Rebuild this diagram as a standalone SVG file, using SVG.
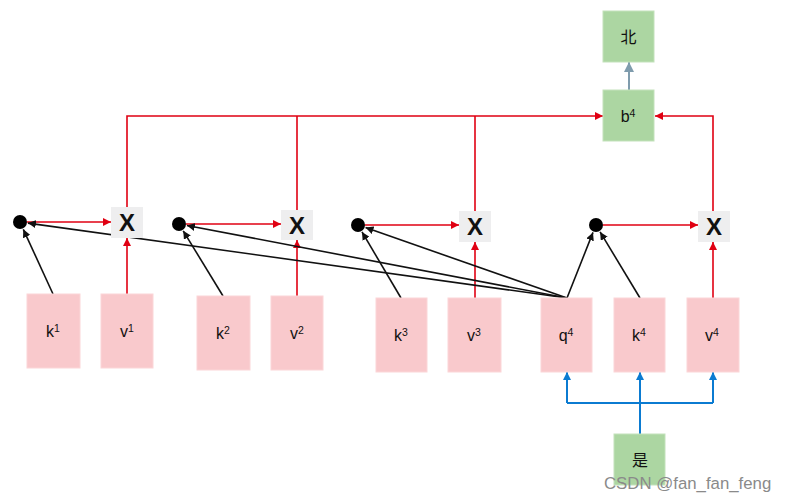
<svg xmlns="http://www.w3.org/2000/svg" width="785" height="502" viewBox="0 0 785 502">
<defs>
<style>
.pk{fill:#f9c9cc;stroke:#fbd6d8;stroke-width:1}
.gr{fill:#acd6a2;stroke:#c3e2bb;stroke-width:1}
.xb{fill:#eeeeef}
.lb{font-family:"Liberation Sans",Arial,sans-serif;font-size:16px;fill:#111}
.sup{font-size:10.5px}
.xt{font-family:"Liberation Sans",Arial,sans-serif;font-size:24px;font-weight:bold;fill:#111}
.cj{font-family:"Noto Sans CJK SC",sans-serif;font-size:16px;fill:#111}
.red{stroke:#e00012;stroke-width:1.6;fill:none}
.blk{stroke:#111;stroke-width:1.6;fill:none}
.blu{stroke:#0b7bd1;stroke-width:2;fill:none}
.gbl{stroke:#7f9cad;stroke-width:2;fill:none}
.wm{font-family:"Liberation Sans",Arial,sans-serif;font-size:16.8px;fill:#8a8a8a}
</style>
<marker id="ar" viewBox="0 0 10 10" refX="10" refY="5" markerWidth="8" markerHeight="8" markerUnits="userSpaceOnUse" orient="auto"><path d="M0,0 L10,5 L0,10 z" fill="#e00012"/></marker>
<marker id="ab" viewBox="0 0 10 10" refX="10" refY="5" markerWidth="8" markerHeight="8" markerUnits="userSpaceOnUse" orient="auto"><path d="M0,0 L10,5 L0,10 z" fill="#111"/></marker>
<marker id="au" viewBox="0 0 10 10" refX="10" refY="5" markerWidth="8" markerHeight="8" markerUnits="userSpaceOnUse" orient="auto"><path d="M0,0 L10,5 L0,10 z" fill="#0b7bd1"/></marker>
<marker id="ag" viewBox="0 0 10 10" refX="10" refY="5" markerWidth="10" markerHeight="10" markerUnits="userSpaceOnUse" orient="auto"><path d="M0,0 L10,5 L0,10 z" fill="#7f9cad"/></marker>
</defs>
<rect width="785" height="502" fill="#ffffff"/>

<g id="connectors">
<polyline class="red" points="127,207 127,116 603,116" marker-end="url(#ar)"/>
<line class="red" x1="297" y1="210" x2="297" y2="116"/>
<line class="red" x1="475" y1="211" x2="475" y2="116"/>
<polyline class="red" points="713,211 713,116 655,116" marker-end="url(#ar)"/>
<line class="red" x1="27" y1="222" x2="111" y2="222" marker-end="url(#ar)"/>
<line class="red" x1="186" y1="224" x2="281" y2="224" marker-end="url(#ar)"/>
<line class="red" x1="365" y1="225" x2="459" y2="225" marker-end="url(#ar)"/>
<line class="red" x1="603" y1="225" x2="698" y2="225" marker-end="url(#ar)"/>
<line class="red" x1="127" y1="294" x2="127" y2="238" marker-end="url(#ar)"/>
<line class="red" x1="297" y1="296" x2="297" y2="240" marker-end="url(#ar)"/>
<line class="red" x1="475" y1="298" x2="475" y2="242" marker-end="url(#ar)"/>
<line class="red" x1="713" y1="298" x2="713" y2="242" marker-end="url(#ar)"/>
<line class="blk" x1="53" y1="294" x2="23.3" y2="229.3" marker-end="url(#ab)"/>
<line class="blk" x1="223" y1="296" x2="183.2" y2="230.8" marker-end="url(#ab)"/>
<line class="blk" x1="401" y1="298" x2="362" y2="231.9" marker-end="url(#ab)"/>
<line class="blk" x1="640" y1="298" x2="600.1" y2="231.9" marker-end="url(#ab)"/>
<line class="blk" x1="567" y1="298" x2="27.9" y2="223.1" marker-end="url(#ab)"/>
<line class="blk" x1="567" y1="298" x2="186.9" y2="225.5" marker-end="url(#ab)"/>
<line class="blk" x1="567" y1="298" x2="365.5" y2="227.6" marker-end="url(#ab)"/>
<line class="blk" x1="567" y1="298" x2="593" y2="232.4" marker-end="url(#ab)"/>
<line class="blu" x1="640" y1="434" x2="640" y2="372" marker-end="url(#au)"/>
<polyline class="blu" points="567,403 713,403"/>
<line class="blu" x1="567" y1="403" x2="567" y2="372" marker-end="url(#au)"/>
<line class="blu" x1="713" y1="403" x2="713" y2="372" marker-end="url(#au)"/>
<line class="gbl" x1="629" y1="90" x2="629" y2="62" marker-end="url(#ag)"/>
</g>

<g id="dot1"><circle cx="20" cy="222" r="7" fill="#000"/></g>
<g id="dot2"><circle cx="179" cy="224" r="7" fill="#000"/></g>
<g id="dot3"><circle cx="358" cy="225" r="7" fill="#000"/></g>
<g id="dot4"><circle cx="596" cy="225" r="7" fill="#000"/></g>

<g id="x1"><rect class="xb" x="111" y="207" width="32" height="31"/><text class="xt" x="127" y="231" text-anchor="middle">X</text></g>
<g id="x2"><rect class="xb" x="281" y="210" width="32" height="30"/><text class="xt" x="297" y="233.5" text-anchor="middle">X</text></g>
<g id="x3"><rect class="xb" x="459" y="211" width="32" height="31"/><text class="xt" x="475" y="235" text-anchor="middle">X</text></g>
<g id="x4"><rect class="xb" x="698" y="211" width="32" height="31"/><text class="xt" x="714" y="235" text-anchor="middle">X</text></g>

<g id="k1"><rect class="pk" x="27" y="294" width="53" height="74"/><text class="lb" x="53" y="337" text-anchor="middle">k<tspan class="sup" dy="-5">1</tspan></text></g>
<g id="v1"><rect class="pk" x="101" y="294" width="52" height="74"/><text class="lb" x="127" y="337" text-anchor="middle">v<tspan class="sup" dy="-5">1</tspan></text></g>
<g id="k2"><rect class="pk" x="197" y="296" width="53" height="74"/><text class="lb" x="223" y="339" text-anchor="middle">k<tspan class="sup" dy="-5">2</tspan></text></g>
<g id="v2"><rect class="pk" x="271" y="296" width="52" height="74"/><text class="lb" x="297" y="339" text-anchor="middle">v<tspan class="sup" dy="-5">2</tspan></text></g>
<g id="k3"><rect class="pk" x="376" y="298" width="51" height="74"/><text class="lb" x="401" y="341" text-anchor="middle">k<tspan class="sup" dy="-5">3</tspan></text></g>
<g id="v3"><rect class="pk" x="448" y="298" width="53" height="74"/><text class="lb" x="474" y="341" text-anchor="middle">v<tspan class="sup" dy="-5">3</tspan></text></g>
<g id="q4"><rect class="pk" x="541" y="298" width="51" height="74"/><text class="lb" x="566" y="341" text-anchor="middle">q<tspan class="sup" dy="-5">4</tspan></text></g>
<g id="k4"><rect class="pk" x="614" y="298" width="51" height="74"/><text class="lb" x="639" y="341" text-anchor="middle">k<tspan class="sup" dy="-5">4</tspan></text></g>
<g id="v4"><rect class="pk" x="687" y="298" width="52" height="74"/><text class="lb" x="712" y="341" text-anchor="middle">v<tspan class="sup" dy="-5">4</tspan></text></g>

<g id="b4"><rect class="gr" x="603" y="90" width="51" height="51"/><text class="lb" x="628" y="122" text-anchor="middle">b<tspan class="sup" dy="-5">4</tspan></text></g>
<g id="bei"><rect class="gr" x="603" y="11" width="51" height="51"/><text class="cj" x="628.5" y="42.5" text-anchor="middle">北</text></g>
<g id="shi"><rect class="gr" x="614" y="434" width="51" height="51"/><text class="cj" x="640" y="466" text-anchor="middle">是</text></g>

<text class="wm" x="604" y="489">CSDN @fan_fan_feng</text>
</svg>
